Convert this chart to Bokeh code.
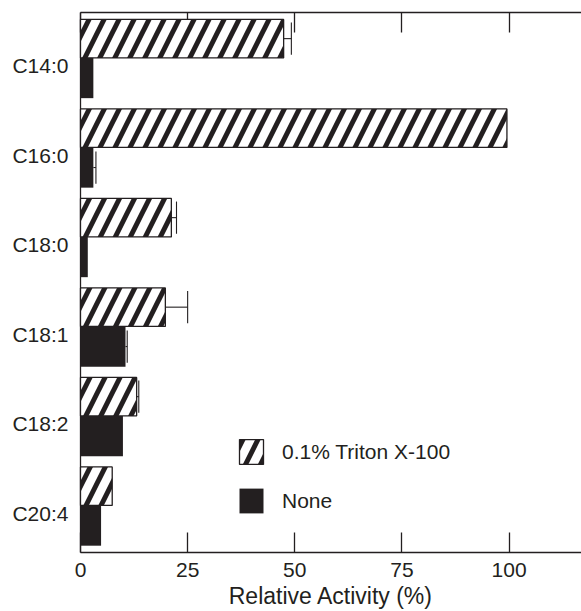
from bokeh.plotting import figure
from bokeh.models import (Range1d, FixedTicker, LinearAxis, Legend, LegendItem,
                          ColumnDataSource)
from bokeh.embed import file_html
from bokeh.resources import INLINE

# ---- data ----
categories = ["C14:0", "C16:0", "C18:0", "C18:1", "C18:2", "C20:4"]
triton = [47.4, 99.5, 21.2, 19.8, 13.1, 7.4]
triton_err = [1.8, None, 1.2, 5.2, 0.5, None]
none_vals = [3.0, 3.0, 1.7, 10.5, 9.9, 4.8]
none_err = [None, 0.6, None, 0.4, None, None]
x_ticks = [0, 25, 50, 75, 100]
series_labels = ["0.1% Triton X-100", "None"]

# ---- styling ----
INK = "#231f20"
FONT = "Liberation Sans"
n = len(categories)
label_pos = [n - 1 - i for i in range(n)]
OFF = 0.087     # bar boundary offset above label centre
H_T = 0.43      # Triton bar thickness
H_N = 0.45      # None bar thickness
CAP = 0.18      # half height of error caps

p = figure(width=581, height=611, output_backend="svg", toolbar_location=None,
           x_range=Range1d(0, 116.9), y_range=Range1d(-0.439, 5.594),
           min_border_left=80, min_border_right=0, min_border_top=12,
           min_border_bottom=59)
p.outline_line_color = None
p.xgrid.grid_line_color = None
p.ygrid.grid_line_color = None
p.background_fill_color = "white"
p.border_fill_color = "white"

t_y = [pos + OFF + H_T / 2 for pos in label_pos]
n_y = [pos + OFF - H_N / 2 for pos in label_pos]

tsrc = ColumnDataSource(dict(y=t_y, right=triton))
nsrc = ColumnDataSource(dict(y=n_y, right=none_vals))

rt = p.hbar(y="y", left=0, right="right", height=H_T, source=tsrc,
            fill_color="white", line_color=INK, line_width=1.3,
            hatch_pattern="/", hatch_color=INK, hatch_scale=30, hatch_weight=5,
            level="overlay")
rn = p.hbar(y="y", left=0, right="right", height=H_N, source=nsrc,
            fill_color=INK, line_color=None, level="overlay")

# error bars (upper side only)
hx0, hx1, hy, cx, cy0, cy1 = [], [], [], [], [], []
for vals, errs, ys in ((triton, triton_err, t_y), (none_vals, none_err, n_y)):
    for v, e, yy in zip(vals, errs, ys):
        if e is None:
            continue
        hx0.append(v); hx1.append(v + e); hy.append(yy)
        cx.append(v + e); cy0.append(yy - CAP); cy1.append(yy + CAP)
p.segment(x0=hx0, y0=hy, x1=hx1, y1=hy, line_color=INK, line_width=1.1, level="overlay")
p.segment(x0=cx, y0=cy0, x1=cx, y1=cy1, line_color=INK, line_width=1.1, level="overlay")

# bottom axis
xa = p.xaxis[0]
xa.ticker = FixedTicker(ticks=x_ticks)
xa.major_tick_in = 20
xa.major_tick_out = 0
xa.minor_tick_line_color = None
xa.major_tick_line_color = INK
xa.major_tick_line_width = 1.3
xa.axis_line_color = INK
xa.axis_line_width = 1.3
xa.major_label_standoff = 10
xa.major_label_text_font = FONT
xa.major_label_text_font_size = "21px"
xa.major_label_text_color = INK
xa.axis_label = "Relative Activity (%)"
xa.axis_label_text_font = FONT
xa.axis_label_text_font_size = "23px"
xa.axis_label_text_font_style = "normal"
xa.axis_label_text_color = INK
xa.axis_label_standoff = 3

# top axis (ticks only, no labels)
ta = LinearAxis(ticker=FixedTicker(ticks=x_ticks), major_tick_in=20,
                major_tick_out=0, minor_tick_line_color=None,
                major_tick_line_color=INK, major_tick_line_width=1.3,
                axis_line_color=INK, axis_line_width=1.3,
                major_label_overrides={t: "" for t in x_ticks},
                major_label_text_font_size="1px", major_label_standoff=0)
p.add_layout(ta, "above")

# left axis
ya = p.yaxis[0]
ya.ticker = FixedTicker(ticks=label_pos)
ya.major_label_overrides = {pos: cat for pos, cat in zip(label_pos, categories)}
ya.major_tick_line_color = None
ya.major_tick_in = 0
ya.major_tick_out = 0
ya.minor_tick_line_color = None
ya.axis_line_color = INK
ya.axis_line_width = 1.3
ya.major_label_standoff = 12
ya.major_label_text_font = FONT
ya.major_label_text_font_size = "21px"
ya.major_label_text_color = INK

legend = Legend(items=[LegendItem(label=series_labels[0], renderers=[rt]),
                       LegendItem(label=series_labels[1], renderers=[rn])],
                location=(156, 36), padding=0, margin=0, spacing=18,
                glyph_width=30, glyph_height=31, label_standoff=16,
                label_text_font=FONT, label_text_font_size="21px",
                label_text_color=INK, border_line_color=None,
                background_fill_alpha=0)
p.add_layout(legend, "center")

open("out.html", "w").write(file_html(p, INLINE))
